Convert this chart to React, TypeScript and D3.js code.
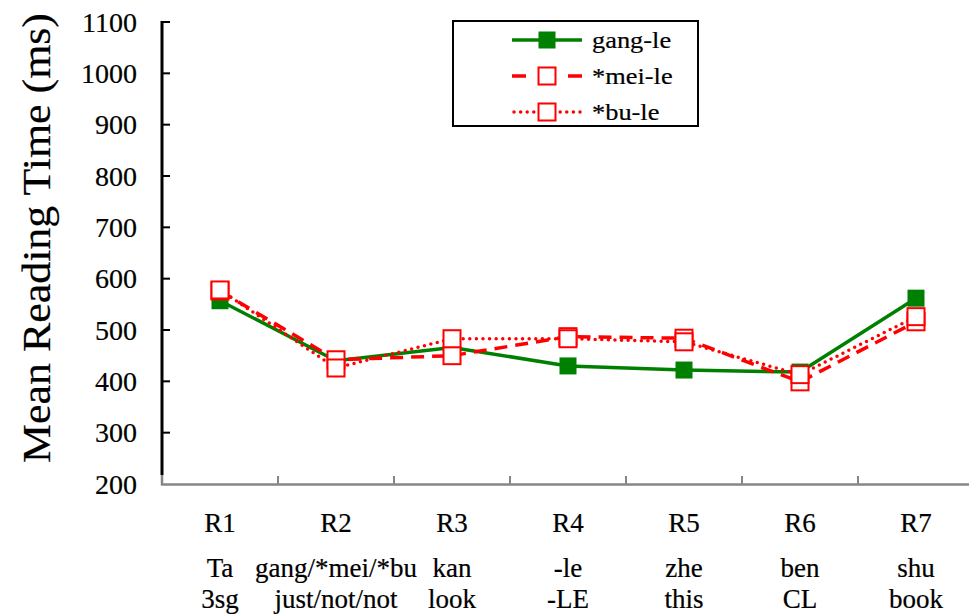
import React from "react";
import * as d3 from "d3";

const categories = ["R1", "R2", "R3", "R4", "R5", "R6", "R7"];
const words = ["Ta", "gang/*mei/*bu", "kan", "-le", "zhe", "ben", "shu"];
const glosses = ["3sg", "just/not/not", "look", "-LE", "this", "CL", "book"];
const gangLe = [557, 440, 466, 430, 422, 418, 562];
const meiLe = [576, 442, 450, 487, 484, 399, 516];
const buLe = [578, 426, 483, 483, 477, 413, 526];
const yTicks = [200, 300, 400, 500, 600, 700, 800, 900, 1000, 1100];
const seriesNames = ["gang-le", "*mei-le", "*bu-le"];

const FONT = "Liberation Serif, Times New Roman, serif";
const GREEN = "#008000";
const RED = "#ff0000";

export default function App() {
  const W = 969;
  const H = 616;
  const left = 162;
  const band = 116;
  const x = d3
    .scaleBand<string>()
    .domain(categories)
    .range([left, left + band * categories.length])
    .padding(0);
  const y = d3.scaleLinear().domain([200, 1100]).range([484, 22]);
  const cx = (i: number) => (x(categories[i]) as number) + x.bandwidth() / 2;

  const line = d3
    .line<number>()
    .x((_, i) => cx(i))
    .y((d) => y(d));

  const ms = 17;
  const txt = { style: { fontFamily: FONT }, fill: "#000", stroke: "#000", strokeWidth: 0.2 };

  const redSquares = (vals: number[], key: string) =>
    vals.map((v, i) => (
      <rect
        key={key + i}
        x={cx(i) - ms / 2}
        y={y(v) - ms / 2}
        width={ms}
        height={ms}
        fill="#fff"
        stroke={RED}
        strokeWidth={2}
      />
    ));

  const lgX0 = 512;
  const lgX1 = 582;
  const lgMid = (lgX0 + lgX1) / 2;
  const lgRows = [40, 76, 112];

  return (
    <svg
      width={W}
      height={H}
      style={{ position: "absolute", left: 0, top: 0, background: "#fff", fontFamily: FONT }}
    >
      <rect x={0} y={0} width={W} height={H} fill="#fff" />

      {/* y axis title */}
      <text
        transform={`translate(50, 238) rotate(-90)`}
        textAnchor="middle"
        fontSize={41}
        textLength={450}
        lengthAdjust="spacingAndGlyphs"
        {...txt}
      >
        Mean Reading Time (ms)
      </text>

      {/* y tick labels */}
      {yTicks.map((t) => (
        <text key={"yl" + t} x={137} y={y(t)} dy="0.35em" textAnchor="end" fontSize={28} {...txt}>
          {t}
        </text>
      ))}

      {/* y ticks (inward) */}
      {yTicks
        .filter((t) => t !== 200)
        .map((t) => (
          <line
            key={"yt" + t}
            x1={left}
            x2={left + 8}
            y1={y(t)}
            y2={y(t)}
            stroke="#000"
            strokeWidth={2}
          />
        ))}

      {/* x axis */}
      <line x1={left - 1} x2={W} y1={y(200) + 0.5} y2={y(200) + 0.5} stroke="#868686" strokeWidth={2.5} />
      {categories.slice(1).map((c) => (
        <line
          key={"xt" + c}
          x1={x(c) as number}
          x2={x(c) as number}
          y1={y(200) - 8}
          y2={y(200)}
          stroke="#868686"
          strokeWidth={2}
        />
      ))}

      {/* y axis */}
      <line x1={left} x2={left} y1={y(1100) - 1} y2={y(200) - 9} stroke="#000" strokeWidth={3} />
      <line x1={left} x2={left} y1={y(200) - 9} y2={y(200) + 1} stroke="#868686" strokeWidth={2.5} />

      {/* category labels */}
      {categories.map((c, i) => (
        <text key={"c" + c} x={cx(i)} y={532} textAnchor="middle" fontSize={27} {...txt}>
          {c}
        </text>
      ))}
      {words.map((w, i) => (
        <text key={"w" + i} x={cx(i)} y={577} textAnchor="middle" fontSize={27} {...txt}>
          {w}
        </text>
      ))}
      {glosses.map((g, i) => (
        <text key={"g" + i} x={cx(i)} y={608} textAnchor="middle" fontSize={27} {...txt}>
          {g}
        </text>
      ))}

      {/* gang-le */}
      <path d={line(gangLe) as string} fill="none" stroke={GREEN} strokeWidth={3.5} />
      {gangLe.map((v, i) => (
        <rect key={"gm" + i} x={cx(i) - ms / 2} y={y(v) - ms / 2} width={ms} height={ms} fill={GREEN} />
      ))}

      {/* *mei-le */}
      <path d={line(meiLe) as string} fill="none" stroke={RED} strokeWidth={3.5} strokeDasharray="13,8" />
      {redSquares(meiLe, "mm")}

      {/* *bu-le */}
      <path
        d={line(buLe) as string}
        fill="none"
        stroke={RED}
        strokeWidth={3.5}
        strokeDasharray="0,6.6"
        strokeLinecap="round"
      />
      {redSquares(buLe, "bm")}

      {/* legend */}
      <rect x={453} y={21} width={245} height={105} fill="#fff" stroke="#000" strokeWidth={2} />
      <line x1={lgX0} x2={lgX1} y1={lgRows[0]} y2={lgRows[0]} stroke={GREEN} strokeWidth={3.5} />
      <rect x={lgMid - ms / 2} y={lgRows[0] - ms / 2} width={ms} height={ms} fill={GREEN} />
      <line
        x1={lgX0}
        x2={lgX1}
        y1={lgRows[1]}
        y2={lgRows[1]}
        stroke={RED}
        strokeWidth={3.5}
        strokeDasharray="14,42,14"
      />
      <rect x={lgMid - ms / 2} y={lgRows[1] - ms / 2} width={ms} height={ms} fill="#fff" stroke={RED} strokeWidth={2} />
      <line
        x1={lgX0 + 2}
        x2={lgX1}
        y1={lgRows[2]}
        y2={lgRows[2]}
        stroke={RED}
        strokeWidth={3.5}
        strokeDasharray="0,6.6"
        strokeLinecap="round"
      />
      <rect x={lgMid - ms / 2} y={lgRows[2] - ms / 2} width={ms} height={ms} fill="#fff" stroke={RED} strokeWidth={2} />
      {seriesNames.map((s, i) => (
        <text
          key={"ln" + i}
          transform={`translate(592, ${lgRows[i] + 8}) scale(1.1, 1)`}
          fontSize={24}
          {...txt}
        >
          {s}
        </text>
      ))}
    </svg>
  );
}
